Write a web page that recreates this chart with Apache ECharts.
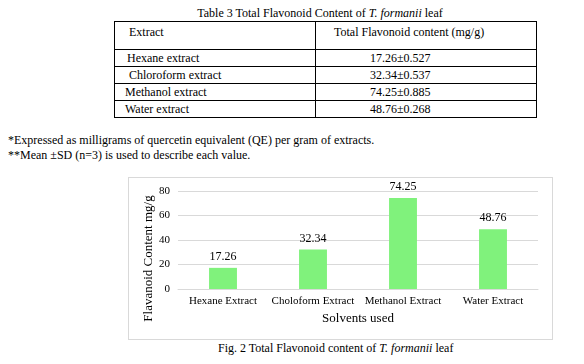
<!DOCTYPE html>
<html>
<head>
<meta charset="utf-8">
<script src="https://cdn.jsdelivr.net/npm/echarts@6/dist/echarts.min.js"></script>
<style>
  html, body { margin: 0; padding: 0; background: #fff; width: 584px; height: 364px; overflow: hidden; }
  body { font-family: "Liberation Serif", "DejaVu Serif", serif; color: #000; position: relative; }
  .abs { position: absolute; white-space: nowrap; }
  #tbl { position: absolute; left: 114px; top: 21px; border-collapse: collapse; font-size: 12px; }
  #tbl td { border: 1.5px solid #000; padding: 0; vertical-align: top; line-height: 14px; }
  #chart { position: absolute; left: 128px; top: 177px; width: 423px; height: 161px; border: 1px solid #d9d9d9; }
</style>
</head>
<body>
<div class="abs" style="left:0; width:640px; text-align:center; top:6px; font-size:12px;">Table 3 Total Flavonoid Content of <i>T. formanii</i> leaf</div>
<table id="tbl"></table>
<div class="abs" style="left:8px; top:133px; font-size:12px;">*Expressed as milligrams of quercetin equivalent (QE) per gram of extracts.</div>
<div class="abs" style="left:8px; top:148px; font-size:12px;">**Mean ±SD (n=3) is used to describe each value.</div>
<div id="chart"></div>
<div class="abs" style="left:218px; top:341px; font-size:12px;">Fig. 2 Total Flavonoid content of <i>T. formanii</i> leaf</div>
<script>
const tableHeader = ["Extract", "Total Flavonoid content (mg/g)"];
const tableRows = ["Hexane extract", "Chloroform extract", "Methanol extract", "Water extract"];
const tableValues = ["17.26±0.527", "32.34±0.537", "74.25±0.885", "48.76±0.268"];
const rowIndent = [12, 14, 10, 10];

const categories = ["Hexane Extract", "Choloform Extract", "Methanol Extract", "Water Extract"];
const values = [17.26, 32.34, 74.25, 48.76];
const yTicks = [0, 20, 40, 60, 80];

// build table
const tbl = document.getElementById('tbl');
let html = '<tr style="height:28px"><td style="width:186px;padding-left:14px;padding-top:3px">' + tableHeader[0] +
  '</td><td style="width:202px;padding-left:18px;padding-top:3px">' + tableHeader[1] + '</td></tr>';
tableRows.forEach((r, i) => {
  html += '<tr style="height:17px"><td style="padding-left:' + rowIndent[i] + 'px;padding-top:1px">' + r +
    '</td><td style="padding-left:54px;padding-top:1px">' + tableValues[i] + '</td></tr>';
});
tbl.innerHTML = html;

const chart = echarts.init(document.getElementById('chart'));
const font = '"Liberation Serif", "DejaVu Serif", serif';
chart.setOption({
  animation: false,
  grid: { left: 49, right: 14, top: 13, bottom: 50 },
  xAxis: {
    type: 'category',
    data: categories,
    name: 'Solvents used',
    nameLocation: 'middle',
    nameGap: 22,
    nameTextStyle: { fontFamily: font, fontSize: 13, color: '#000' },
    axisLine: { lineStyle: { color: '#d9d9d9' } },
    axisTick: { show: false },
    axisLabel: { fontFamily: font, fontSize: 11, color: '#000', margin: 7, interval: 0 }
  },
  yAxis: {
    type: 'value',
    min: yTicks[0],
    max: yTicks[yTicks.length - 1],
    interval: yTicks[1] - yTicks[0],
    axisLine: { show: false },
    axisTick: { show: false },
    splitLine: { lineStyle: { color: '#d9d9d9' } },
    axisLabel: { fontFamily: font, fontSize: 11, color: '#000', margin: 8 }
  },
  graphic: [{
    type: 'text',
    left: 13,
    top: 'middle',
    rotation: Math.PI / 2,
    x: 20, y: 70,
    style: { text: 'Flavanoid Content mg/g', font: '13px ' + font, fill: '#000', align: 'center', verticalAlign: 'middle' }
  }],
  series: [{
    type: 'bar',
    data: values,
    barWidth: '31%',
    itemStyle: { color: '#80f27c' },
    label: { show: true, position: 'top', distance: 5, fontFamily: font, fontSize: 12, color: '#000', formatter: p => p.value.toFixed(2) }
  }]
});
</script>
</body>
</html>
